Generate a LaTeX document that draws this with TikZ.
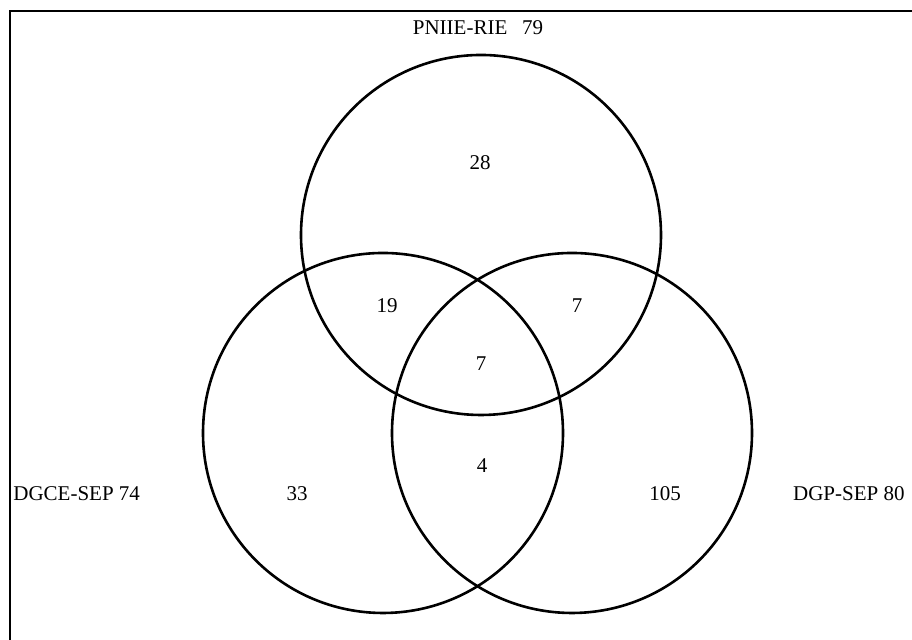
\documentclass[tikz,border=0pt]{standalone}
\usepackage{fontspec}
\setmainfont{Liberation Serif}
\usetikzlibrary{positioning}

\begin{document}
\begin{tikzpicture}[x=0.5pt,y=0.5pt,
    setcircle/.style={draw, circle, line width=1.3pt, minimum size=180pt, inner sep=0pt},
    setname/.style={font=\fontsize{10.5}{12}\selectfont, inner sep=1pt},
    count/.style={font=\fontsize{10.5}{12}\selectfont, inner sep=1pt}]
    \useasboundingbox (0,0) rectangle (912,640);
    % frame, top and left only
    \draw[line width=1.3pt] (912,629) -- (10,629) -- (10,0);
    % the three sets
    \node[setcircle] (pniie) at (481,405) {};
    \node[setcircle] (dgce) at (383,207) {};
    \node[setcircle] (dgp) at (572,207) {};
    % set names
    \node[setname] (pniiename) at (478,612) {PNIIE-RIE\hspace{0.7em}79};
    \node[setname, anchor=west] (dgcename) at (11,146) {DGCE-SEP 74};
    \node[setname, anchor=east] (dgpname) at (907,146) {DGP-SEP 80};
    % counts per region
    \node[count] (onlypniie) at (480,477) {28};
    \node[count] (pniiedgce) at (387,334) {19};
    \node[count] (pniiedgp) at (577,334) {7};
    \node[count] (allthree) at (481,276) {7};
    \node[count] (onlydgce) at (297,146) {33};
    \node[count] (onlydgp) at (665,146) {105};
    \node[count] (dgcedgp) at (482,174) {4};
\end{tikzpicture}
\end{document}
